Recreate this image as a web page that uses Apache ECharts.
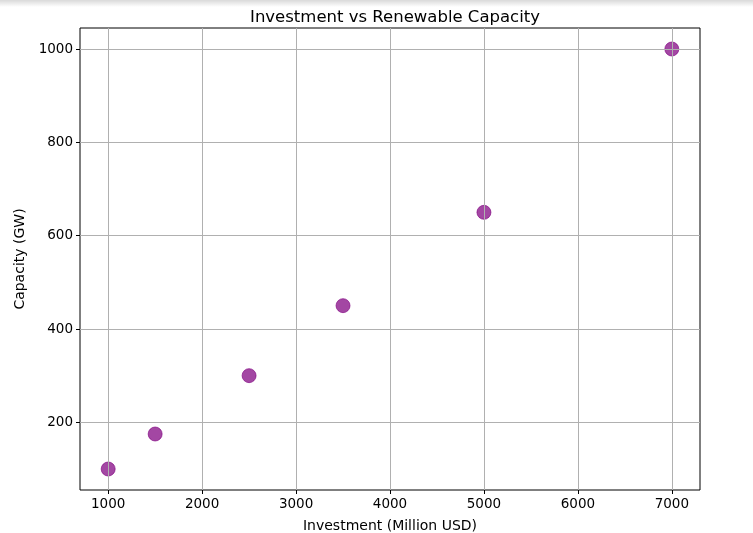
<!DOCTYPE html>
<html>
<head>
<meta charset="utf-8">
<script src="https://cdn.jsdelivr.net/npm/echarts@6/dist/echarts.min.js"></script>
<style>html,body{margin:0;padding:0;background:#fff}#c{width:753px;height:533px}</style>
</head>
<body>
<div id="c"></div>
<script>
const investment = [1000, 1500, 2500, 3500, 5000, 7000];
const capacity = [100, 175, 300, 450, 650, 1000];
const xTicks = [1000, 2000, 3000, 4000, 5000, 6000, 7000];
const yTicks = [200, 400, 600, 800, 1000];

const chart = echarts.init(document.getElementById('c'), null, {renderer: 'canvas'});
const font = 'DejaVu Sans';
const gridLines = [].concat(
  xTicks.map(v => ({xAxis: v})),
  yTicks.map(v => ({yAxis: v}))
);
chart.setOption({
  animation: false,
  backgroundColor: '#fff',
  title: {
    text: 'Investment vs Renewable Capacity',
    left: 390, top: 4, textAlign: 'center',
    textStyle: {fontFamily: font, fontSize: 16.5, fontWeight: 'normal', color: '#000'}
  },
  graphic: [{
    type: 'rect', shape: {x: 0, y: 0, width: 753, height: 7},
    style: {fill: new echarts.graphic.LinearGradient(0, 0, 0, 1, [
      {offset: 0, color: 'rgba(0,0,0,0.15)'}, {offset: 1, color: 'rgba(0,0,0,0)'}])},
    silent: true, z: 100
  }],
  grid: {left: 80, right: 53, top: 28, bottom: 43, outerBoundsMode: 'none', containLabel: false,
         show: true, borderColor: '#000', borderWidth: 1, backgroundColor: '#fff', z: 0},
  xAxis: {
    type: 'value', min: 700, max: 7300,
    name: 'Investment (Million USD)', nameLocation: 'middle', nameGap: 29,
    nameTextStyle: {fontFamily: font, fontSize: 14, color: '#000'},
    axisLine: {show: false},
    axisTick: {show: true, inside: false, length: 4, customValues: xTicks, lineStyle: {color: '#000'}},
    axisLabel: {customValues: xTicks, formatter: v => String(v), fontFamily: font, fontSize: 13.5, color: '#000', margin: 7},
    splitLine: {show: false}
  },
  yAxis: {
    type: 'value', min: 55, max: 1045,
    name: 'Capacity (GW)', nameLocation: 'middle', nameGap: 52,
    nameTextStyle: {fontFamily: font, fontSize: 14, color: '#000'},
    axisLine: {show: false},
    axisTick: {show: true, inside: false, length: 4, customValues: yTicks, lineStyle: {color: '#000'}},
    axisLabel: {customValues: yTicks, formatter: v => String(v), fontFamily: font, fontSize: 13.5, color: '#000', margin: 7},
    splitLine: {show: false}
  },
  series: [{
    type: 'scatter', data: [], z: 1,
    markLine: {
      silent: true, symbol: 'none', label: {show: false},
      lineStyle: {color: '#b0b0b0', width: 1, type: 'solid'},
      data: gridLines, animation: false
    }
  }, {
    type: 'scatter', z: 3,
    data: investment.map((x, i) => [x, capacity[i]]),
    symbolSize: 14,
    itemStyle: {color: 'rgba(128,0,128,0.72)', opacity: 1, borderColor: 'rgba(128,0,128,0.8)', borderWidth: 0.8}
  }]
});
</script>
</body>
</html>
